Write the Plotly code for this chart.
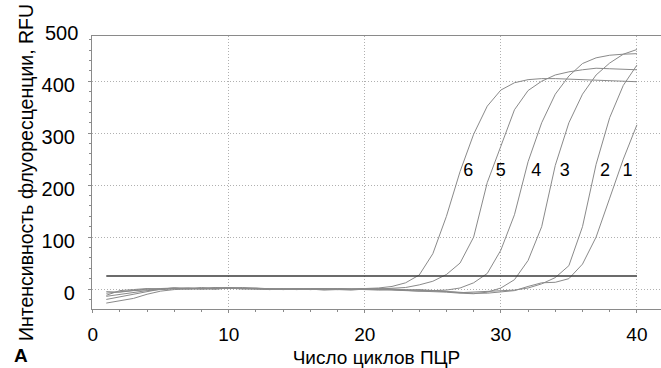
import plotly.graph_objects as go

cycles = list(range(1, 41))

curve_1 = [-27, -22, -18, -10, -4, -1, 0, 1, 0, 2, 1, 0, -1, 0, 1, 0, -2, -1, 0, 1,
           0, -1, -2, -1, -3, -4, -6, -8, -8, -6, -3, 5, 12, 13, 20, 48, 100, 175, 250, 316]
curve_2 = [-14, -10, -6, -3, -1, 1, 2, 0, 1, 3, 2, 1, 0, -1, 0, 1, 0, -1, -2, 0,
           1, 0, -1, -2, -3, -5, -7, -6, -5, -4, -2, 2, 10, 22, 45, 120, 240, 330, 392, 431]
curve_3 = [-20, -15, -10, -4, 0, 2, 1, 0, 2, 1, 3, 1, 0, 1, -1, 0, 1, 0, -1, 0,
           -1, -2, -2, -3, -4, -6, -8, -9, -6, 2, 18, 55, 120, 238, 320, 375, 412, 435, 452, 461]
curve_4 = [-8, -5, -2, 0, 1, 2, 0, 1, 3, 2, 1, 0, 1, 0, -1, 1, 0, -1, 0, -1,
           -2, -1, -3, -4, -3, -2, 2, 12, 30, 75, 143, 245, 320, 375, 410, 434, 445, 450, 452, 453]
curve_5 = [-5, -6, -3, -1, 0, 1, 2, 1, 0, 2, 1, 2, 0, -1, 0, -1, 0, 1, 0, -1,
           0, 1, 3, 8, 15, 28, 50, 100, 205, 275, 345, 382, 400, 412, 418, 422, 425, 424, 423, 422]
curve_6 = [-12, -3, -1, 1, 0, 2, 1, 3, 1, 2, 0, 1, -1, 0, 1, -1, 0, 1, 0, 1,
           2, 5, 12, 27, 68, 140, 226, 298, 352, 383, 397, 403, 405, 405, 404, 403, 402, 401, 400, 399]

curves = [curve_1, curve_2, curve_3, curve_4, curve_5, curve_6]

threshold_cycles = [1, 40]
threshold_value = [25, 25]

label_texts = ["1", "2", "3", "4", "5", "6"]
label_cycles = [39.3, 37.65, 34.7, 32.6, 30.0, 27.6]
label_values = [226, 226, 226, 226, 226, 226]

x_ticks = [0, 10, 20, 30, 40]
y_ticks = [0, 100, 200, 300, 400]
y_top_label = 500

Y_MIN, Y_MAX = -38.4, 487

FONT = "Liberation Sans, Arial, Helvetica, sans-serif"
fig = go.Figure()

for ys in curves:
    fig.add_trace(go.Scatter(x=cycles, y=ys, mode="lines",
                             line=dict(color="#8a8a8a", width=1), showlegend=False,
                             hoverinfo="skip"))

fig.add_trace(go.Scatter(x=threshold_cycles, y=threshold_value, mode="lines",
                         line=dict(color="#3a3a3a", width=1.6), showlegend=False))

fig.add_trace(go.Scatter(x=label_cycles, y=label_values, mode="text", text=label_texts,
                         textfont=dict(size=18, color="black", family=FONT),
                         showlegend=False))

fig.add_annotation(xref="paper", yref="paper", x=0,
                   y=1 + (y_top_label - Y_MAX) / (Y_MAX - Y_MIN),
                   text=str(y_top_label), showarrow=False,
                   xanchor="right", yanchor="middle", xshift=-12, yshift=-4,
                   font=dict(size=20, color="black", family=FONT))
fig.add_annotation(xref="paper", yref="paper", x=-80 / 569, y=0, text="<b>А</b>", showarrow=False,
                   xanchor="left", yanchor="bottom", yshift=-59,
                   font=dict(size=19, color="black", family=FONT))

fig.update_layout(
    width=661, height=368,
    margin=dict(l=92, r=0, t=36, b=59),
    paper_bgcolor="white", plot_bgcolor="white",
    font=dict(family=FONT, size=20, color="black"),
    xaxis=dict(range=[-0.05, 41.77], tickvals=x_ticks, showgrid=True,
               gridcolor="#b0b0b0", griddash="1px,2px", gridwidth=1,
               showline=True, linecolor="#8a8a8a", linewidth=1.2, mirror=True,
               ticks="outside", ticklen=3, tickcolor="#8a8a8a",
               tickfont=dict(size=19),
               minor=dict(dtick=2, ticks="outside", ticklen=2, tickcolor="#8a8a8a", showgrid=False),
               ticklabelstandoff=5, zeroline=False,
               title=dict(text="Число циклов ПЦР", standoff=6, font=dict(size=19))),
    yaxis=dict(range=[Y_MIN, Y_MAX], tickvals=y_ticks, showgrid=True,
               gridcolor="#b0b0b0", griddash="1px,2px", gridwidth=1,
               showline=True, linecolor="#8a8a8a", linewidth=1.2, mirror=False,
               ticks="outside", ticklen=3, tickcolor="#8a8a8a",
               tickfont=dict(size=20),
               minor=dict(dtick=20, ticks="outside", ticklen=2, tickcolor="#8a8a8a", showgrid=False),
               ticklabelstandoff=9, ticklabelshift=4, zeroline=False,
               title=dict(text="Интенсивность флуоресценции, RFU", standoff=2, font=dict(size=19.5))),
)

fig.write_html("out.html")
